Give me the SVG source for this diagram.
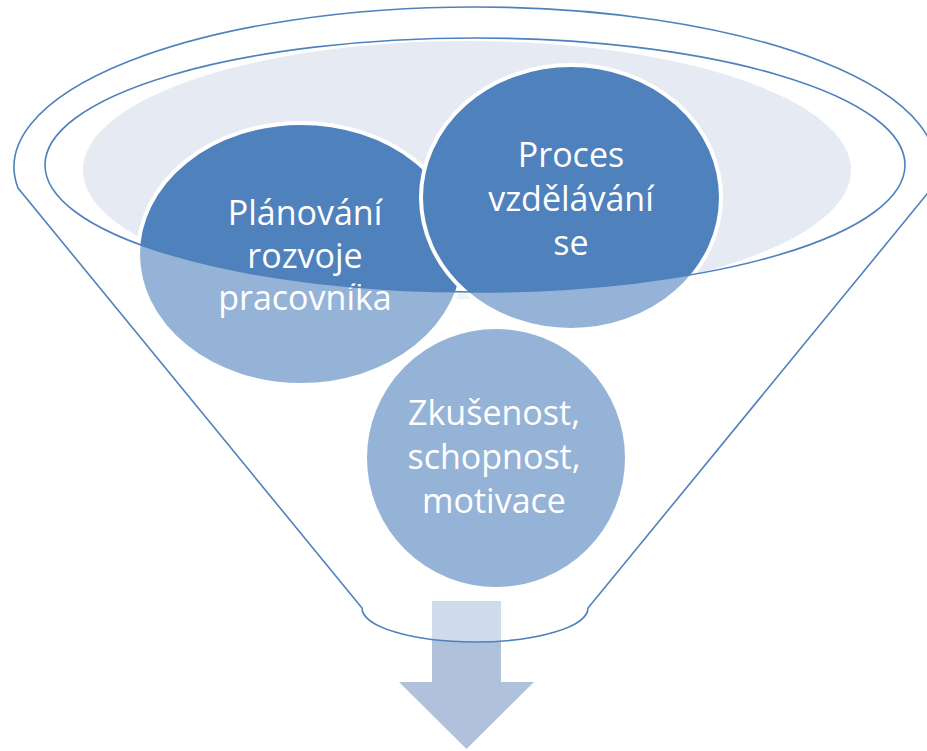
<svg xmlns="http://www.w3.org/2000/svg" width="927" height="751" viewBox="0 0 927 751">
<style>
.rim{fill:none;stroke:#4F81BD;stroke-width:1.6}
.node{fill:#4F81BD;stroke:#FFFFFF;stroke-width:4}
.lbl{fill:#FFFFFF;font-family:"Open Sans","Liberation Sans",sans-serif;font-size:34px;text-anchor:middle}
</style>
<rect width="927" height="751" fill="#FFFFFF"/>
<ellipse cx="467" cy="170" rx="384" ry="129" fill="#E5EAF3"/>
<g id="arrow">
<path d="M432,601 L501,601 L501,682 L534,682 L466.5,749 L399,682 L432,682 Z" fill="#B0C1DC"/>
</g>
<g id="node1">
<ellipse class="node" cx="301" cy="254" rx="163" ry="131"/>
<text class="lbl" x="305" y="225">Plánování</text>
<text class="lbl" x="305" y="268">rozvoje</text>
<text class="lbl" x="305" y="310">pracovníka</text>
</g>
<g id="node2">
<ellipse class="node" cx="571" cy="197.5" rx="150" ry="132.5"/>
<text class="lbl" x="571" y="167">Proces</text>
<text class="lbl" x="571" y="211">vzdělávání</text>
<text class="lbl" x="571" y="255">se</text>
</g>
<g id="node3">
<circle class="node" cx="496" cy="458" r="131"/>
<text class="lbl" x="494" y="425">Zkušenost,</text>
<text class="lbl" x="494" y="469">schopnost,</text>
<text class="lbl" x="494" y="513">motivace</text>
</g>
<path d="M18,188 L362,608 A113,34 0 0 0 588,608 L932,188 L932,0 L18,0 Z M45,165 A430,127 0 1 0 905,165 A430,127 0 1 0 45,165 Z" fill="#FFFFFF" fill-opacity="0.4" fill-rule="evenodd"/>
<g id="connectors">
<path class="rim" d="M18,188 A461,160 0 1 1 932,188 L588,608 A113,34 0 0 1 362,608 Z"/>
<ellipse class="rim" cx="475" cy="165" rx="430" ry="127"/>
</g>
</svg>
